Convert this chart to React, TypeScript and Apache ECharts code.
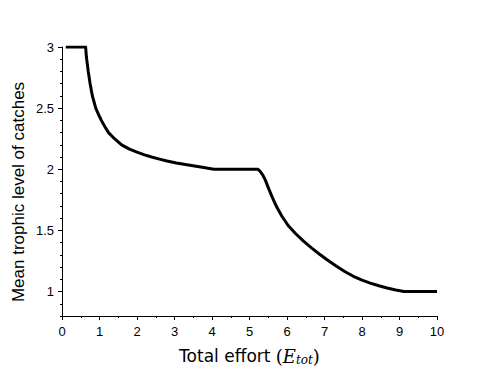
import React, { useEffect, useRef } from "react";
import * as echarts from "echarts";

const effort = [
  0.1, 0.63, 0.65, 0.675, 0.7, 0.75, 0.81, 0.9, 0.97, 1.05, 1.14, 1.24, 1.4, 1.59, 1.8, 2.0, 2.2, 2.39, 2.6, 2.8, 3.05, 3.37, 3.7, 4.05,
  5.22, 5.28, 5.35, 5.42, 5.5, 5.6, 5.72, 5.86, 6.03, 6.22, 6.44, 6.66, 6.86, 7.06, 7.33, 7.55, 7.77, 8.0, 8.22, 8.45, 8.67, 8.9, 9.12, 10,
];
const trophic = [
  3.0, 3.0, 2.92, 2.86, 2.8, 2.7, 2.6, 2.5, 2.45, 2.4, 2.35, 2.3, 2.25, 2.2, 2.165, 2.14, 2.118, 2.1, 2.083, 2.068, 2.052, 2.035, 2.018, 2.0,
  2.0, 1.985, 1.955, 1.913, 1.85, 1.776, 1.695, 1.618, 1.54, 1.477, 1.412, 1.355, 1.307, 1.262, 1.205, 1.162, 1.125, 1.094, 1.069, 1.047, 1.029, 1.013, 1.0, 1.0,
];
const yMajorTicks = [1, 1.5, 2, 2.5, 3];

export default function App() {
  const ref = useRef<HTMLDivElement>(null);
  useEffect(() => {
    if (!ref.current) return;
    const chart = echarts.init(ref.current, null, { renderer: "svg" });
    const data = effort.map((x, i) => [x, trophic[i]]);
    const labelStyle = { color: "#000", fontSize: 13, fontFamily: "Liberation Sans, Arial, sans-serif" };
    chart.setOption({
      animation: false,
      backgroundColor: "#fff",
      grid: { left: 62, right: 63, top: 47, bottom: 61, containLabel: false },
      graphic: [
        {
          type: "text",
          x: 18,
          y: 192,
          rotation: Math.PI / 2,
          style: {
            text: "Mean trophic level of catches",
            fontSize: 17,
            fill: "#000",
            fontFamily: "Liberation Sans, Arial, sans-serif",
            align: "center",
            verticalAlign: "middle",
          },
        },
      ],
      xAxis: {
        type: "value",
        min: 0,
        max: 10,
        interval: 1,
        name: "{a|Total effort }{b|(}{c|E}{d|tot}{b|)}",
        nameLocation: "middle",
        nameGap: 30,
        nameTextStyle: {
          rich: {
            a: { fontSize: 17, color: "#000", fontFamily: "DejaVu Sans, sans-serif" },
            b: { fontSize: 18, color: "#000", fontFamily: "DejaVu Serif, serif" },
            c: { fontSize: 18, color: "#000", fontFamily: "DejaVu Serif, serif", fontStyle: "italic" },
            d: { fontSize: 12, color: "#000", fontFamily: "DejaVu Serif, serif", fontStyle: "italic", padding: [8, 0, 0, 0] },
          },
        },
        axisLine: { show: true, lineStyle: { color: "#000", width: 1 } },
        axisTick: { show: true, length: 4, lineStyle: { color: "#000" } },
        minorTick: { show: true, splitNumber: 2, length: 2, lineStyle: { color: "#000" } },
        axisLabel: { ...labelStyle, margin: 9 },
        splitLine: { show: false },
      },
      yAxis: [
        {
          type: "value",
          min: 0.8,
          max: 3,
          interval: 0.1,
          position: "left",
          axisLine: { show: true, lineStyle: { color: "#000", width: 1 } },
          axisTick: { show: true, length: 2, lineStyle: { color: "#000" } },
          axisLabel: { show: false },
          splitLine: { show: false },
        },
        {
          type: "value",
          min: 0.8,
          max: 3,
          interval: 0.1,
          position: "left",
          axisLine: { show: false },
          axisTick: { show: true, length: 4, customValues: yMajorTicks, lineStyle: { color: "#000" } },
          axisLabel: { ...labelStyle, margin: 8, customValues: yMajorTicks },
          splitLine: { show: false },
        },
      ],
      series: [
        {
          type: "line",
          data,
          yAxisIndex: 0,
          showSymbol: false,
          smooth: false,
          lineStyle: { color: "#000", width: 3, join: "round" },
        },
      ],
    });
    return () => chart.dispose();
  }, []);
  return <div ref={ref} style={{ width: 500, height: 377, position: "absolute", left: 0, top: 0 }} />;
}
